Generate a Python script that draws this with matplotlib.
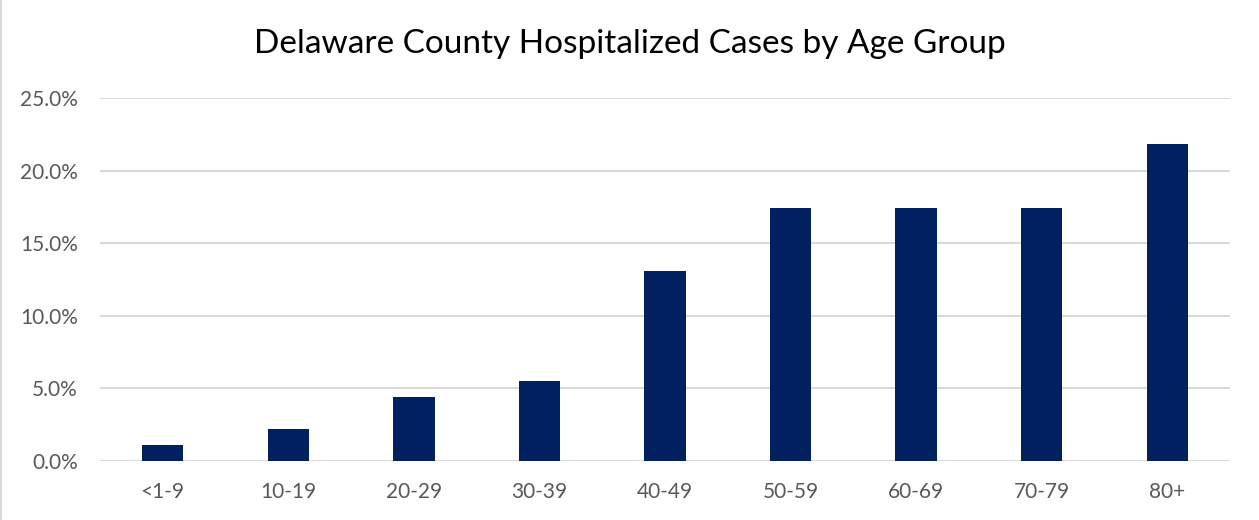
import matplotlib.pyplot as plt
from matplotlib.ticker import FuncFormatter, MultipleLocator

# Age groups and share of hospitalized cases
age_groups = ['<1-9', '10-19', '20-29', '30-39', '40-49', '50-59', '60-69', '70-79', '80+']
share = [0.011, 0.022, 0.044, 0.055, 0.131, 0.174, 0.174, 0.174, 0.218]

bar_color = '#002060'
grid_color = '#d9d9d9'
text_color = '#595959'

plt.rcParams['font.family'] = ['Lato', 'DejaVu Sans']

fig = plt.figure(figsize=(12.59, 5.20), dpi=100)
ax = fig.add_axes([0.0794, 0.1135, 0.8976, 0.698])

x = range(len(age_groups))
ax.bar(x, share, width=0.33, color=bar_color, zorder=3)

ax.set_xlim(-0.5, len(age_groups) - 0.5)
ax.set_ylim(0, 0.25)
ax.yaxis.set_major_locator(MultipleLocator(0.05))
ax.yaxis.set_major_formatter(FuncFormatter(lambda v, p: f'{v * 100:.1f}%'))
ax.set_xticks(list(x))
ax.set_xticklabels(age_groups)

ax.grid(axis='y', color=grid_color, linewidth=1.5, zorder=0)
for s in ['top', 'right', 'left', 'bottom']:
    ax.spines[s].set_visible(False)
ax.tick_params(axis='both', length=0, colors=text_color, labelsize=15)
ax.tick_params(axis='x', pad=15)
ax.tick_params(axis='y', pad=16)

fig.suptitle('Delaware County Hospitalized Cases by Age Group', x=0.5, y=0.945,
             fontsize=24, color='black')

# thin frame line on the left edge like the original chart box
fig.add_artist(plt.Line2D([0.001, 0.001], [0, 1], transform=fig.transFigure,
                          color='#d9d9d9', linewidth=1.5))

plt.savefig('out.png', dpi=100)
